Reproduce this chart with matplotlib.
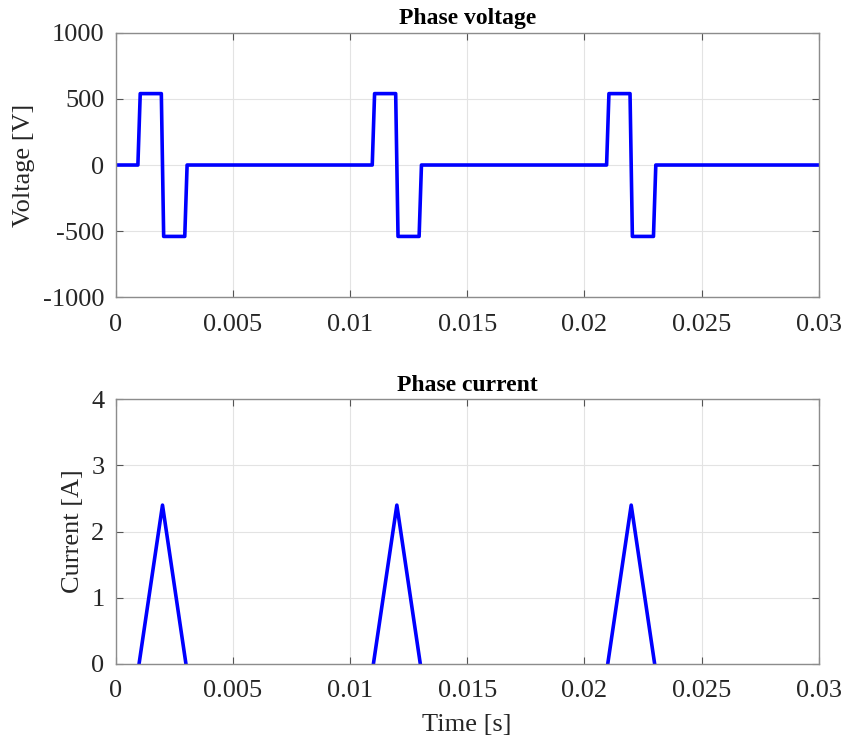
import matplotlib
matplotlib.use('Agg')
import matplotlib.pyplot as plt
import numpy as np

# phase voltage breakpoints (s, V)
t_volt = [0, 0.00095, 0.00105, 0.00195, 0.00205, 0.00295, 0.00305,
          0.01095, 0.01105, 0.01195, 0.01205, 0.01295, 0.01305,
          0.02095, 0.02105, 0.02195, 0.02205, 0.02295, 0.02305, 0.03]
volt = [0, 0, 540, 540, -540, -540, 0,
        0, 540, 540, -540, -540, 0,
        0, 540, 540, -540, -540, 0, 0]

# phase current triangles (s, A), nan splits the pulses
t_cur = [0.001, 0.002, 0.003, np.nan, 0.011, 0.012, 0.013, np.nan, 0.021, 0.022, 0.023]
cur = [0, 2.4, 0, np.nan, 0, 2.4, 0, np.nan, 0, 2.4, 0]

x_ticks = [0, 0.005, 0.01, 0.015, 0.02, 0.025, 0.03]
x_labels = ['0', '0.005', '0.01', '0.015', '0.02', '0.025', '0.03']

plt.rcParams['font.family'] = ['Liberation Serif', 'DejaVu Serif']
plt.rcParams['axes.unicode_minus'] = False

fig = plt.figure(figsize=(8.44, 7.45), dpi=100)
ax1 = fig.add_axes([0.137, 0.601, 0.833, 0.355])
ax2 = fig.add_axes([0.137, 0.109, 0.833, 0.355])


def style(ax):
    ax.grid(True, color='#e3e3e3', linewidth=0.8)
    ax.set_axisbelow(True)
    for s in ax.spines.values():
        s.set_color('#8c8c8c')
        s.set_linewidth(1.0)
    ax.tick_params(direction='in', length=5, width=0.8, color='#555555',
                   top=True, right=True, labelsize=19, labelcolor='#262626')
    ax.tick_params(axis='x', pad=12)
    ax.tick_params(axis='y', pad=8)
    ax.set_xlim(0, 0.03)
    ax.set_xticks(x_ticks)
    ax.set_xticklabels(x_labels)


ax1.plot(t_volt, volt, color='#0000ff', linewidth=2.6)
style(ax1)
ax1.set_ylim(-1000, 1000)
ax1.set_yticks([-1000, -500, 0, 500, 1000])
ax1.set_ylabel('Voltage [V]', fontsize=19, color='#262626', labelpad=6)
ax1.set_title('Phase voltage', fontsize=17, fontweight='bold', pad=6)

ax2.plot(t_cur, cur, color='#0000ff', linewidth=2.6)
style(ax2)
ax2.set_ylim(0, 4)
ax2.set_yticks([0, 1, 2, 3, 4])
ax2.set_ylabel('Current [A]', fontsize=19, color='#262626', labelpad=5)
ax2.set_xlabel('Time [s]', fontsize=19, color='#262626', labelpad=8)
ax2.set_title('Phase current', fontsize=17, fontweight='bold', pad=6)

fig.savefig('out.png', dpi=100)
